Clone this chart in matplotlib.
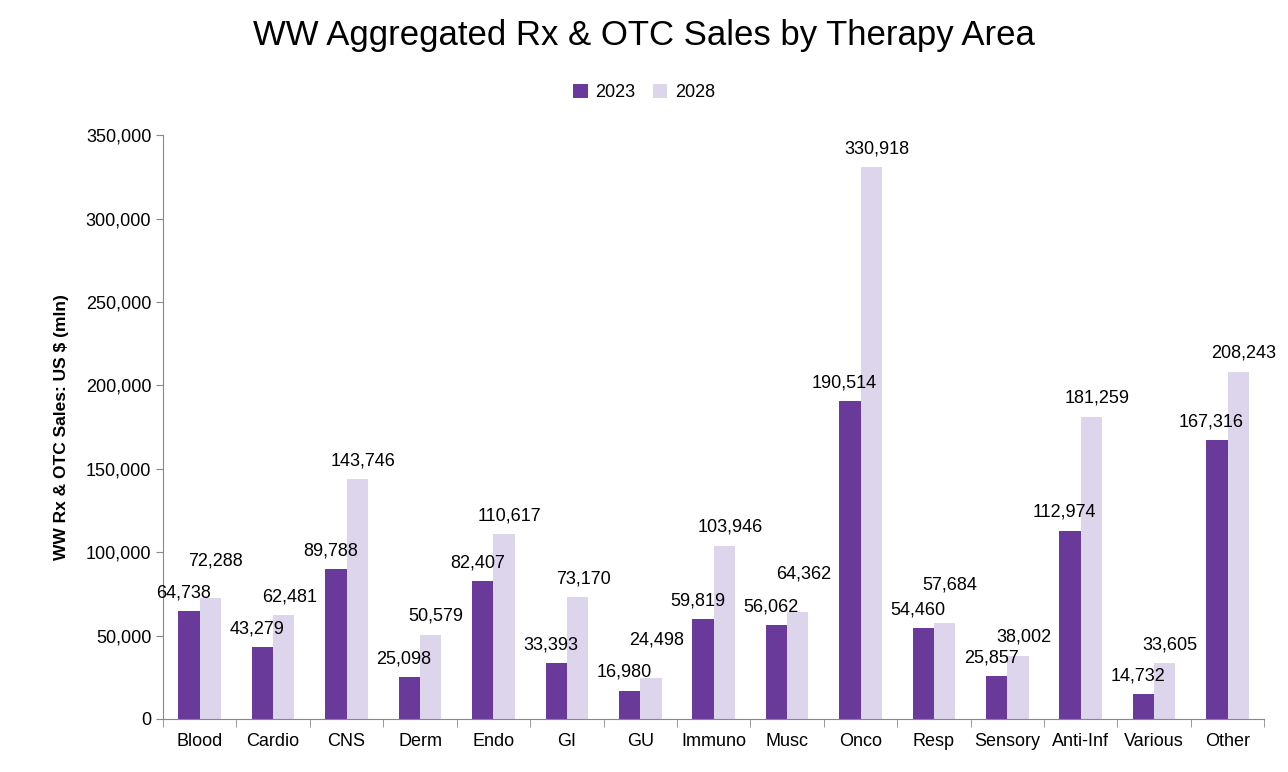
import matplotlib
matplotlib.use("Agg")
import matplotlib.pyplot as plt
import numpy as np

categories = ["Blood","Cardio","CNS","Derm","Endo","GI","GU","Immuno","Musc","Onco","Resp","Sensory","Anti-Inf","Various","Other"]
sales_2023 = [64738,43279,89788,25098,82407,33393,16980,59819,56062,190514,54460,25857,112974,14732,167316]
sales_2028 = [72288,62481,143746,50579,110617,73170,24498,103946,64362,330918,57684,38002,181259,33605,208243]
yticks = [0,50000,100000,150000,200000,250000,300000,350000]

plt.rcParams["font.family"] = "Liberation Sans"
fig = plt.figure(figsize=(12.88,7.72), dpi=100)
ax = fig.add_axes([0.1266,0.0687,0.855,0.7563])
x = np.arange(len(categories))
w = 0.29
c1, c2 = "#6A3A9A", "#DCD5EB"
b1 = ax.bar(x-w/2, sales_2023, w, color=c1, label="2023")
b2 = ax.bar(x+w/2, sales_2028, w, color=c2, label="2028")
for r1, r2 in zip(b1, b2):
    h1, h2 = r1.get_height(), r2.get_height()
    ax.annotate(f"{int(h1):,}", (r1.get_x()+r1.get_width()/2, h1),
                xytext=(-4,7), textcoords="offset points", ha="center", va="bottom", fontsize=13)
    extra = 14 if abs(h2-h1) < 12000 else 0
    ax.annotate(f"{int(h2):,}", (r2.get_x()+r2.get_width()/2, h2),
                xytext=(4,7+extra), textcoords="offset points", ha="center", va="bottom", fontsize=13)
ax.set_xlim(-0.5, len(categories)-0.5)
ax.set_ylim(0,350000)
ax.set_yticks(yticks)
ax.set_yticklabels([f"{v:,}" for v in yticks], fontsize=13)
ax.set_xticks(x)
ax.set_xticklabels(categories, fontsize=13)
ax.tick_params(axis="x", length=0, pad=10)
ax.set_xticks(np.arange(-0.5, len(categories)), minor=True)
ax.tick_params(axis="x", which="minor", length=6, color="#888888")
ax.tick_params(axis="y", length=5, color="#888888")
for s in ["top","right"]:
    ax.spines[s].set_visible(False)
for s in ["left","bottom"]:
    ax.spines[s].set_color("#888888")
ax.set_ylabel("WW Rx & OTC Sales: US $ (mln)", fontsize=12.5, fontweight="bold", labelpad=12)
fig.suptitle("WW Aggregated Rx & OTC Sales by Therapy Area", fontsize=25, y=0.975)
fig.legend(handles=[b1,b2], loc="center", bbox_to_anchor=(0.5,0.88), ncol=2, frameon=False,
           fontsize=13, handlelength=0.8, handleheight=0.8, columnspacing=1.0, handletextpad=0.4)
fig.savefig("out.png", dpi=100)
